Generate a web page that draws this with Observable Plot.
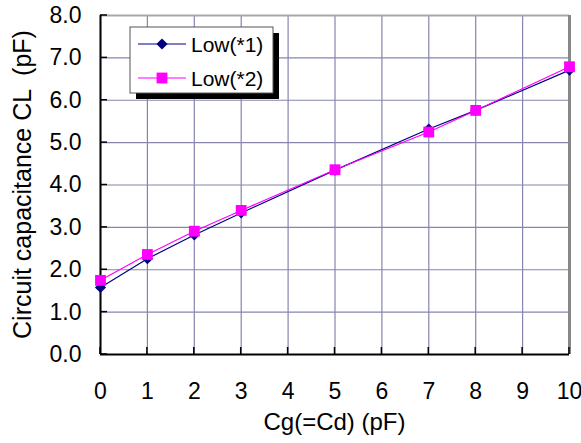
<!DOCTYPE html>
<html>
<head>
<meta charset="utf-8">
<script src="https://cdn.jsdelivr.net/npm/d3@7"></script>
<script src="https://cdn.jsdelivr.net/npm/@observablehq/plot@0.6"></script>
<style>
  html, body { margin: 0; padding: 0; background: #fff; }
  #chart { width: 581px; height: 443px; }
  svg { font-family: "Liberation Sans", Arial, sans-serif; }
</style>
</head>
<body>
<div id="chart"></div>
<script>
const cg = [0, 1, 2, 3, 5, 7, 8, 10];
const low1 = [1.58, 2.26, 2.82, 3.34, 4.35, 5.32, 5.76, 6.71];
const low2 = [1.75, 2.36, 2.91, 3.40, 4.36, 5.25, 5.76, 6.79];
const seriesNames = ["Low(*1)", "Low(*2)"];
const xTicks = [0, 1, 2, 3, 4, 5, 6, 7, 8, 9, 10];
const yTicks = [0, 1, 2, 3, 4, 5, 6, 7, 8];
const xLabel = "Cg(=Cd) (pF)";
const yLabel = "Circuit capacitance CL  (pF)";

const rows1 = cg.map((x, i) => ({x, y: low1[i]}));
const rows2 = cg.map((x, i) => ({x, y: low2[i]}));

const gridColor = "#8585b0";
const col1 = "#000080";
const col2 = "#ff00ff";

const chart = Plot.plot({
  width: 581,
  height: 443,
  marginLeft: 100,
  marginRight: 12,
  marginTop: 15,
  marginBottom: 89,
  style: {fontFamily: "Liberation Sans, Arial, sans-serif", background: "#fff", color: "#000"},
  x: {domain: [0, 10]},
  y: {domain: [0, 8]},
  marks: [
    Plot.gridX(xTicks, {stroke: gridColor, strokeOpacity: 1, strokeWidth: 1.2}),
    Plot.gridY(yTicks, {stroke: gridColor, strokeOpacity: 1, strokeWidth: 1.2}),
    Plot.ruleY([8], {stroke: "#a8a8a8", strokeWidth: 2}),
    Plot.ruleX([10], {stroke: "#888888", strokeWidth: 3}),
    Plot.ruleX([0], {stroke: "#000", strokeWidth: 2}),
    Plot.ruleY([0], {stroke: "#000", strokeWidth: 2}),
    Plot.axisX(xTicks, {tickSize: 0, tickPadding: 28, fontSize: 23, fill: "#000", label: null}),
    Plot.axisY(yTicks, {tickSize: 0, tickPadding: 19, fontSize: 23, fill: "#000", tickFormat: d => d.toFixed(1), label: null}),
    Plot.line(rows1, {x: "x", y: "y", stroke: col1, strokeWidth: 1.2}),
    Plot.line(rows2, {x: "x", y: "y", stroke: col2, strokeWidth: 1.2}),
    Plot.dot(rows1, {x: "x", y: "y", symbol: "diamond2", r: 5, fill: col1, stroke: "none"}),
    Plot.dot(rows2, {x: "x", y: "y", symbol: "square", r: 6.1, fill: col2, stroke: "none"})
  ]
});

const svg = d3.select(chart);
const ys = chart.scale("y");
const xs = chart.scale("x");
svg.append("g").selectAll("line").data(yTicks).join("line")
  .attr("x1", xs.apply(0)).attr("x2", xs.apply(0) + 7)
  .attr("y1", d => ys.apply(d)).attr("y2", d => ys.apply(d))
  .attr("stroke", "#000").attr("stroke-width", 1.5);
svg.append("g").selectAll("line").data(xTicks).join("line")
  .attr("y1", ys.apply(0)).attr("y2", ys.apply(0) - 7)
  .attr("x1", d => xs.apply(d)).attr("x2", d => xs.apply(d))
  .attr("stroke", "#000").attr("stroke-width", 1.5);

// axis titles
const xMid = (xs.apply(0) + xs.apply(10)) / 2;
const yMid = (ys.apply(0) + ys.apply(8)) / 2;
svg.append("text").attr("x", xMid).attr("y", 430).attr("text-anchor", "middle")
  .style("font-size", "24px").attr("fill", "#000").text(xLabel);
svg.append("text").attr("transform", `translate(31,${yMid}) rotate(-90)`).attr("text-anchor", "middle")
  .style("font-size", "25px").attr("fill", "#000").text(yLabel);

// legend
const lg = svg.append("g").attr("transform", "translate(130,27)");
lg.append("rect").attr("x", 6).attr("y", 6).attr("width", 143).attr("height", 66).attr("fill", "#000");
lg.append("rect").attr("x", 0).attr("y", 0).attr("width", 143).attr("height", 66).attr("fill", "#fff").attr("stroke", "#555").attr("stroke-width", 1);
const colors = [col1, col2];
const syms = [d3.symbol(d3.symbolDiamond2, 80), d3.symbol(d3.symbolSquare, 117)];
seriesNames.forEach((name, i) => {
  const cy = 17 + i * 34;
  lg.append("line").attr("x1", 8).attr("x2", 56).attr("y1", cy).attr("y2", cy).attr("stroke", colors[i]).attr("stroke-width", 1.2);
  lg.append("path").attr("d", syms[i]()).attr("transform", `translate(32,${cy})`).attr("fill", colors[i]);
  lg.append("text").attr("x", 61).attr("y", cy).attr("dy", "0.36em").attr("text-anchor", "start")
    .style("font-size", "21px").attr("fill", "#000").text(name);
});

document.getElementById("chart").appendChild(chart);
</script>
</body>
</html>
